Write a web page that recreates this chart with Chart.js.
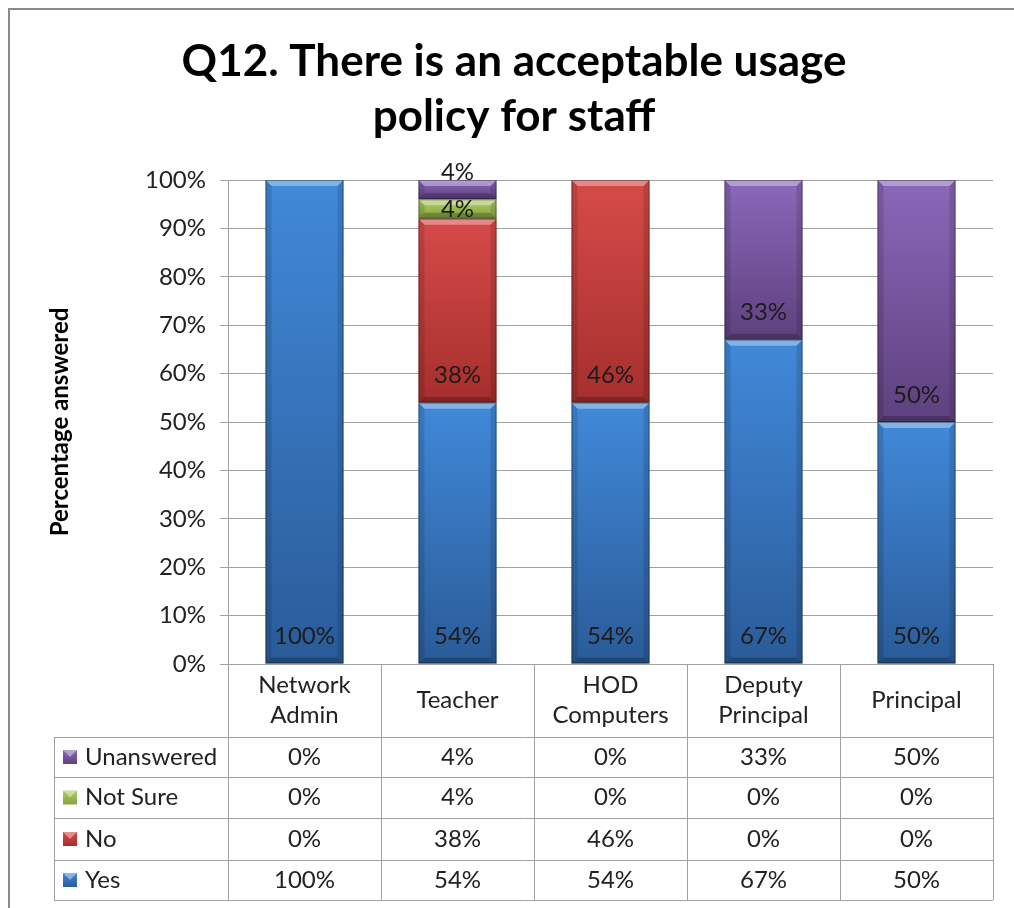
<!DOCTYPE html>
<html>
<head>
<meta charset="utf-8">
<script src="https://cdn.jsdelivr.net/npm/chart.js@4/dist/chart.umd.min.js"></script>
<style>
  body { margin: 0; background: #fff; }
  #wrap { width: 1014px; height: 908px; }
</style>
</head>
<body>
<div id="wrap"><canvas id="myChart" width="1014" height="908"></canvas></div>
<script>
// roles along the x axis
const categories = [["Network", "Admin"], ["Teacher"], ["HOD", "Computers"], ["Deputy", "Principal"], ["Principal"]];

// answer shares in percent, one array per answer
const yes = [100, 54, 54, 67, 50];
const no = [0, 38, 46, 0, 0];
const notSure = [0, 4, 0, 0, 0];
const unanswered = [0, 4, 0, 33, 50];

const yTicks = [0, 10, 20, 30, 40, 50, 60, 70, 80, 90, 100];

const FONT = "Lato";

// face colours, light at the top of a segment and dark at the base
const shades = {
   Yes: ["#4189d9", "#2a5b98"],
   No: ["#d64b49", "#a52f2d"],
   "Not Sure": ["#afcd66", "#84a33c"],
   Unanswered: ["#8b68ba", "#5e417e"],
};

const series = [
   { label: "Yes", data: yes },
   { label: "No", data: no },
   { label: "Not Sure", data: notSure },
   { label: "Unanswered", data: unanswered },
];

function faceFill(c) {
   const chart = c.chart;
   const sh = shades[series[c.datasetIndex].label];
   if (!chart.chartArea) return sh[0];
   const y = chart.scales.y;
   let start = 0;
   for (let k = 0; k < c.datasetIndex; k++) start += series[k].data[c.dataIndex];
   const top = y.getPixelForValue(start + series[c.datasetIndex].data[c.dataIndex]);
   const bot = y.getPixelForValue(start);
   if (!(bot > top)) return sh[0];
   const g = chart.ctx.createLinearGradient(0, top, 0, bot);
   g.addColorStop(0, sh[0]);
   g.addColorStop(1, sh[1]);
   return g;
}

// bevelled edges on each bar segment
const bevel = {
   id: "bevel",
   afterDatasetsDraw(chart) {
      const ctx = chart.ctx;
      chart.data.datasets.forEach((ds, d) => {
         chart.getDatasetMeta(d).data.forEach((bar, i) => {
            if (!ds.data[i]) return;
            const l = bar.x - bar.width / 2, r = bar.x + bar.width / 2;
            const t = bar.y, b = bar.base;
            const e = Math.min(6, (b - t) / 3);
            ctx.save();
            ctx.fillStyle = "rgba(255,255,255,0.35)";
            ctx.beginPath();
            ctx.moveTo(l, t); ctx.lineTo(r, t); ctx.lineTo(r - e, t + e); ctx.lineTo(l + e, t + e);
            ctx.closePath(); ctx.fill();
            ctx.fillStyle = "rgba(0,0,0,0.22)";
            ctx.beginPath();
            ctx.moveTo(l, b); ctx.lineTo(r, b); ctx.lineTo(r - e, b - e); ctx.lineTo(l + e, b - e);
            ctx.closePath(); ctx.fill();
            ctx.fillStyle = "rgba(0,0,0,0.12)";
            ctx.beginPath();
            ctx.moveTo(l, t); ctx.lineTo(l + e, t + e); ctx.lineTo(l + e, b - e); ctx.lineTo(l, b);
            ctx.closePath(); ctx.fill();
            ctx.beginPath();
            ctx.moveTo(r, t); ctx.lineTo(r - e, t + e); ctx.lineTo(r - e, b - e); ctx.lineTo(r, b);
            ctx.closePath(); ctx.fill();
            ctx.strokeStyle = "rgba(0,0,0,0.35)";
            ctx.lineWidth = 1;
            ctx.strokeRect(l + 0.5, t + 0.5, r - l - 1, b - t - 1);
            ctx.restore();
         });
      });
   },
};

// value labels near the base of each segment
const valueLabels = {
   id: "valueLabels",
   afterDatasetsDraw(chart) {
      const ctx = chart.ctx;
      ctx.save();
      ctx.font = `24px ${FONT}`;
      ctx.fillStyle = "#1c1c1c";
      ctx.textAlign = "center";
      ctx.textBaseline = "middle";
      const last = chart.data.datasets.length - 1;
      chart.data.datasets.forEach((ds, d) => {
         chart.getDatasetMeta(d).data.forEach((bar, i) => {
            const v = ds.data[i];
            if (!v) return;
            const h = bar.base - bar.y;
            let y = bar.base - 27;
            if (h < 30 && d !== last) y = bar.base - h / 2;
            ctx.fillText(v + "%", bar.x, y);
         });
      });
      ctx.restore();
   },
};

// outer frame, title and data table under the plot
const frameAndTable = {
   id: "frameAndTable",
   beforeDraw(chart) {
      const ctx = chart.ctx;
      ctx.save();
      ctx.fillStyle = "#fff";
      ctx.fillRect(0, 0, chart.width, chart.height);
      ctx.strokeStyle = "#8a8a8a";
      ctx.lineWidth = 2;
      ctx.strokeRect(9, 9, chart.width + 20, chart.height + 20);
      ctx.restore();
   },
   afterDraw(chart) {
      const ctx = chart.ctx;
      const area = chart.chartArea;
      const xs = chart.scales.x;
      const n = categories.length;
      const colW = (area.right - area.left) / n;
      const tblLeft = 54;
      const rowTops = [area.bottom, 737, 777, 818, 860, 900];
      ctx.save();

      // title
      ctx.fillStyle = "#000";
      ctx.textAlign = "center";
      ctx.textBaseline = "middle";
      ctx.font = `bold 44px ${FONT}`;
      ctx.fillText("Q12. There is an acceptable usage", 514, 62);
      ctx.fillText("policy for staff", 514, 117);

      // grid of the table
      ctx.strokeStyle = "#a0a0a0";
      ctx.lineWidth = 1;
      ctx.beginPath();
      for (let k = 1; k < rowTops.length; k++) {
         const y = Math.round(rowTops[k]) + 0.5;
         ctx.moveTo(tblLeft, y);
         ctx.lineTo(area.right, y);
      }
      for (let c = 0; c <= n; c++) {
         const x = Math.round(area.left + c * colW) + 0.5;
         ctx.moveTo(x, area.bottom);
         ctx.lineTo(x, rowTops[rowTops.length - 1]);
      }
      ctx.moveTo(tblLeft + 0.5, rowTops[1]);
      ctx.lineTo(tblLeft + 0.5, rowTops[rowTops.length - 1]);
      ctx.stroke();

      ctx.fillStyle = "#222";
      ctx.font = `24px ${FONT}`;

      // category header
      categories.forEach((cat, i) => {
         const cx = xs.getPixelForValue(i);
         const mid = (rowTops[0] + rowTops[1]) / 2;
         cat.forEach((line, j) => {
            ctx.fillText(line, cx, mid + (j - (cat.length - 1) / 2) * 30);
         });
      });

      // one row per answer, top row is the top of the stack
      const rows = series.slice().reverse();
      rows.forEach((s, r) => {
         const mid = (rowTops[r + 1] + rowTops[r + 2]) / 2;
         const sh = shades[s.label];
         const g = ctx.createLinearGradient(0, mid - 7, 0, mid + 7);
         g.addColorStop(0, sh[0]);
         g.addColorStop(1, sh[1]);
         ctx.fillStyle = g;
         ctx.fillRect(63, mid - 7, 14, 14);
         ctx.fillStyle = "rgba(255,255,255,0.4)";
         ctx.beginPath();
         ctx.moveTo(63, mid - 7); ctx.lineTo(77, mid - 7); ctx.lineTo(70, mid);
         ctx.closePath(); ctx.fill();
         ctx.fillStyle = "#222";
         ctx.textAlign = "left";
         ctx.fillText(s.label, 85, mid);
         ctx.textAlign = "center";
         s.data.forEach((v, i) => {
            ctx.fillText(v + "%", xs.getPixelForValue(i), mid);
         });
      });
      ctx.restore();
   },
};

const ctx = document.getElementById("myChart");
new Chart(ctx, {
   type: "bar",
   data: {
      labels: categories.map((c) => c.join(" ")),
      datasets: series.map((s) => ({
         label: s.label,
         data: s.data,
         backgroundColor: faceFill,
         borderWidth: 0,
         categoryPercentage: 1,
         barPercentage: 0.51,
      })),
   },
   options: {
      responsive: false,
      animation: false,
      events: [],
      layout: { padding: { left: 0, right: 21, top: 180, bottom: 244 } },
      plugins: {
         legend: { display: false },
         title: { display: false },
         tooltip: { enabled: false },
      },
      scales: {
         x: { stacked: true, display: false },
         y: {
            stacked: true,
            min: 0,
            max: 100,
            afterFit(scale) { scale.width = 228; },
            afterBuildTicks(scale) { scale.ticks = yTicks.map((v) => ({ value: v })); },
            ticks: {
               callback: (v) => v + "%",
               color: "#222",
               padding: 14,
               font: { family: FONT, size: 24 },
            },
            grid: { color: "#a0a0a0", tickLength: 8, lineWidth: 1 },
            border: { color: "#a0a0a0" },
            title: {
               display: true,
               text: "Percentage answered",
               color: "#000",
               font: { family: FONT, size: 24, weight: "bold" },
               padding: { top: 46, bottom: 0 },
            },
         },
      },
   },
   plugins: [frameAndTable, bevel, valueLabels],
});
</script>
</body>
</html>
